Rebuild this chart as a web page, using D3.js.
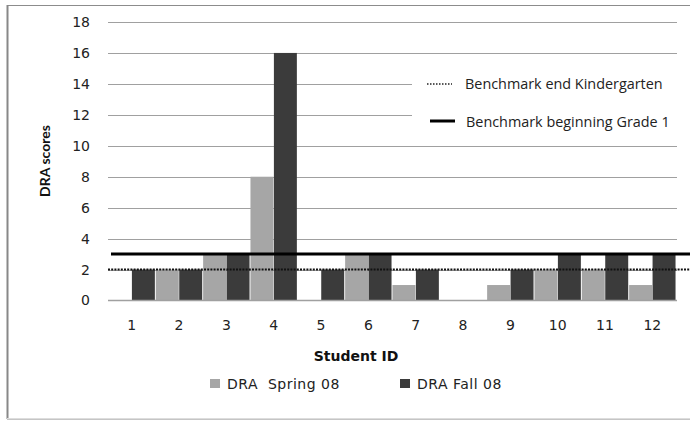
<!DOCTYPE html>
<html><head><meta charset="utf-8">
<script src="https://cdn.jsdelivr.net/npm/d3@7"></script>
<style>body{margin:0;background:#fff}svg{display:block}</style>
</head><body>
<svg id="c" width="690" height="421"></svg>
<script>
const students = ["1","2","3","4","5","6","7","8","9","10","11","12"];
const spring08 = [0,2,3,8,0,3,1,0,1,2,2,1];
const fall08 = [2,2,3,16,2,3,2,0,2,3,3,3];
const yTicks = [0,2,4,6,8,10,12,14,16,18];
const benchKinder = 2;
const benchGrade1 = 3;
const seriesNames = ["DRA  Spring 08","DRA Fall 08"];
const benchNames = ["Benchmark end Kindergarten","Benchmark beginning Grade 1"];

const svg = d3.select("#c");
const colors = ["#a6a6a6","#3b3b3b"];
const x = d3.scaleBand().domain(students).range([108,676]).padding(0);
const sub = d3.scaleBand().domain([0,1]).range([0,x.bandwidth()]).padding(0.02);
const y = d3.scaleLinear().domain([0,18]).range([300.5,22]);

// outer border
svg.append("rect").attr("x",7.5).attr("y",5.5).attr("width",700).attr("height",413.5)
  .attr("fill","#fff").attr("stroke","#8c8c8c").attr("stroke-width",1);
svg.append("line").attr("x1",7.5).attr("x2",7.5).attr("y1",5).attr("y2",419).attr("stroke","#888").attr("stroke-width",2);
svg.append("line").attr("x1",7).attr("x2",690).attr("y1",418.5).attr("y2",418.5).attr("stroke","#ddd").attr("stroke-width",1);

// gridlines
svg.append("g").selectAll("line").data(yTicks.filter(d=>d>0)).join("line")
  .attr("x1",108).attr("x2",677).attr("y1",d=>Math.round(y(d))+0.5).attr("y2",d=>Math.round(y(d))+0.5)
  .attr("stroke","#a0a0a0").attr("stroke-width",1);

// y axis tick labels
const yAxis = d3.axisLeft(y).tickValues(yTicks).tickSize(0).tickPadding(18);
const ya = svg.append("g").attr("transform","translate(108,0)").call(yAxis);
ya.select(".domain").remove();
ya.selectAll("text").attr("font-family","DejaVu Sans").attr("font-size",14).attr("fill","#222");

// bars
const groups = svg.append("g").selectAll("g").data(students).join("g")
  .attr("transform",d=>`translate(${x(d)},0)`);
groups.selectAll("rect").data((d,i)=>[spring08[i],fall08[i]]).join("rect")
  .attr("x",(d,j)=>sub(j)).attr("width",sub.bandwidth())
  .attr("y",d=>y(d)).attr("height",d=>y(0)-y(d))
  .attr("fill",(d,j)=>colors[j]);

// baseline
svg.append("line").attr("x1",108).attr("x2",677).attr("y1",300.5).attr("y2",300.5).attr("stroke","#a0a0a0").attr("stroke-width",1.5);

// x axis labels
const xAxis = d3.axisBottom(x).tickSize(0).tickPadding(20);
const xa = svg.append("g").attr("transform","translate(0,300)").call(xAxis);
xa.select(".domain").remove();
xa.selectAll("text").attr("font-family","DejaVu Sans").attr("font-size",14).attr("fill","#222");

// benchmark lines
svg.append("line").attr("x1",108).attr("x2",690).attr("y1",y(benchKinder)).attr("y2",y(benchKinder))
  .attr("stroke","#111").attr("stroke-width",2).attr("stroke-dasharray","2,1.2");
svg.append("line").attr("x1",111).attr("x2",690).attr("y1",y(benchGrade1)).attr("y2",y(benchGrade1))
  .attr("stroke","#000").attr("stroke-width",3);

// top-right legend
svg.append("rect").attr("x",412).attr("y",62).attr("width",278).attr("height",78).attr("fill","#fff");
const lg = svg.append("g");
lg.append("line").attr("x1",427).attr("x2",452).attr("y1",84).attr("y2",84)
  .attr("stroke","#222").attr("stroke-width",1.3).attr("stroke-dasharray","1.5,1.5");
lg.append("line").attr("x1",430).attr("x2",455).attr("y1",121).attr("y2",121)
  .attr("stroke","#000").attr("stroke-width",3);
lg.selectAll("text").data(benchNames).join("text")
  .attr("x",(d,i)=>i===0?465:466).attr("y",(d,i)=>i===0?89:127)
  .attr("font-family","Open Sans").attr("font-size",14.4).attr("fill","#222").text(d=>d);

// axis titles
svg.append("text").attr("transform","translate(50,161) rotate(-90)").attr("text-anchor","middle")
  .attr("font-family","Lato").attr("font-weight","bold").attr("font-size",14).attr("fill","#111").text("DRA scores");
svg.append("text").attr("x",356).attr("y",361).attr("text-anchor","middle")
  .attr("font-family","DejaVu Sans").attr("font-weight","bold").attr("font-size",14).attr("fill","#111").text("Student ID");

// bottom legend
const bl = svg.append("g");
const blX = [210,400];
bl.selectAll("rect").data(seriesNames).join("rect")
  .attr("x",(d,i)=>blX[i]).attr("y",379).attr("width",10).attr("height",9)
  .attr("fill",(d,i)=>colors[i]);
bl.selectAll("text").data(seriesNames).join("text")
  .attr("x",(d,i)=>blX[i]+17).attr("y",389).attr("xml:space","preserve")
  .attr("font-family","DejaVu Sans").attr("font-size",14).attr("letter-spacing",0.5).attr("fill","#222").text(d=>d);
</script>
</body></html>
